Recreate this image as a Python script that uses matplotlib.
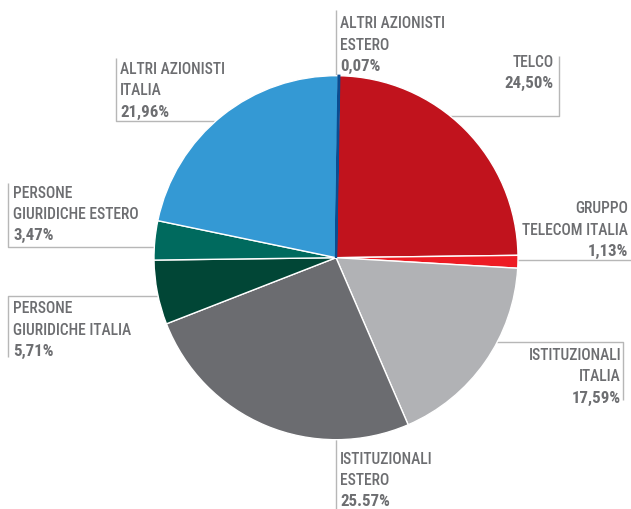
import matplotlib
matplotlib.use("Agg")
import matplotlib.pyplot as plt
from matplotlib import font_manager

# ---- data ----
categories = ["ALTRI AZIONISTI\nESTERO", "TELCO", "GRUPPO\nTELECOM ITALIA",
              "ISTITUZIONALI\nITALIA", "ISTITUZIONALI\nESTERO",
              "PERSONE\nGIURIDICHE ITALIA", "PERSONE\nGIURIDICHE ESTERO",
              "ALTRI AZIONISTI\nITALIA"]
values = [0.07, 24.50, 1.13, 17.59, 25.57, 5.71, 3.47, 21.96]
pct_labels = ["0,07%", "24,50%", "1,13%", "17,59%", "25.57%", "5,71%", "3,47%", "21,96%"]
colors = ["#0b4c90", "#c1131d", "#ed1c24", "#b1b2b5", "#6b6c70",
          "#014636", "#006a5e", "#3499d4"]

# ---- layout (pixel coords, y from top) ----
W, H = 631, 509
CX, CY, R = 336.0, 257.7, 182.0
TEXT_COLOR = "#6d6e71"
LINE_COLOR = "#b7b7b7"

avail = {f.name for f in font_manager.fontManager.ttflist}
FONT = "DejaVu Sans"
for cand in ["Roboto Condensed", "Archivo Narrow", "PT Sans Narrow",
             "Barlow Semi Condensed", "Liberation Sans Narrow", "Open Sans Condensed"]:
    if cand in avail:
        FONT = cand
        break

# label anchors: x, first baseline y, alignment
label_pos = [
    (340, 28.3, "left"),
    (553.5, 67.0, "right"),
    (628, 213.3, "right"),
    (621, 360.0, "right"),
    (340, 463.5, "left"),
    (13.3, 313.3, "left"),
    (13.3, 197.7, "left"),
    (120, 74.0, "left"),
]
LINE_SP = 21.3

# leader lines as polylines (px)
leaders = [
    [(336, 10), (336, CY)],
    [(559, 55.7), (559, 116), (CX, 116)],
    [(CX, 260), (631, 260)],
    [(CX, 341.7), (622.8, 341.7), (622.8, 400)],
    [(336, CY), (336, 509)],
    [(CX, 295.7), (8, 295.7), (8, 357)],
    [(8, 183.3), (8, 246.7), (CX, 246.7)],
    [(115.7, 58), (115.7, 121), (CX, 121)],
]

fig = plt.figure(figsize=(W / 100, H / 100), dpi=100)
ax = fig.add_axes([0, 0, 1, 1])

def fy(y):
    return H - y

for pts in leaders:
    xs = [p[0] for p in pts]
    ys = [fy(p[1]) for p in pts]
    ax.plot(xs, ys, color=LINE_COLOR, lw=1.0, zorder=1, solid_capstyle="butt")

wedges, _ = ax.pie(values, colors=colors, startangle=89.2, counterclock=False,
                   center=(CX, fy(CY)), radius=R, frame=True,
                   wedgeprops=dict(edgecolor="white", linewidth=1.0))
for w in wedges:
    w.set_zorder(2)
# make the tiny slice visible
wedges[0].set_edgecolor(colors[0])
wedges[0].set_linewidth(1.6)
wedges[0].set_zorder(3)

for name, pct, (x, y, ha) in zip(categories, pct_labels, label_pos):
    lines = name.split("\n")
    for i, ln in enumerate(lines):
        ax.text(x, fy(y + i * LINE_SP), ln, ha=ha, va="baseline", color=TEXT_COLOR,
                fontsize=11.2, family=FONT, fontweight="medium", zorder=5)
    ax.text(x, fy(y + len(lines) * LINE_SP), pct, ha=ha, va="baseline", color=TEXT_COLOR,
            fontsize=12.2, family=FONT, fontweight="bold", zorder=5)

ax.set_xlim(0, W)
ax.set_ylim(0, H)
ax.set_aspect("equal")
ax.axis("off")
fig.savefig("out.png", dpi=100, facecolor="white")
